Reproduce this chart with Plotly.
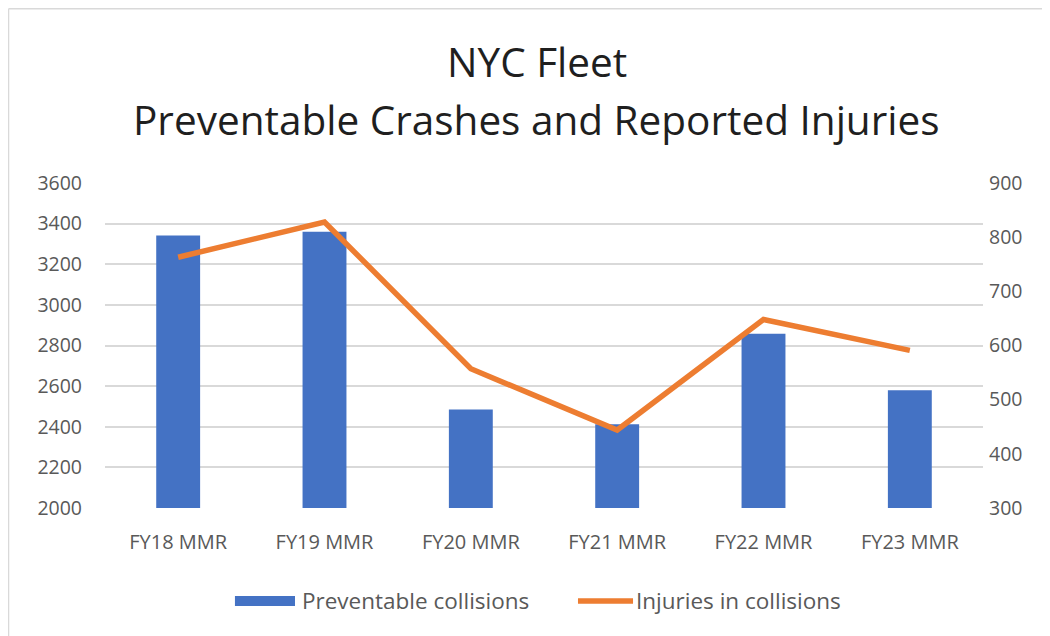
import plotly.graph_objects as go

categories = ["FY18 MMR", "FY19 MMR", "FY20 MMR", "FY21 MMR", "FY22 MMR", "FY23 MMR"]
preventable_collisions = [3342, 3360, 2485, 2412, 2858, 2580]
injuries_in_collisions = [763, 828, 557, 444, 648, 591]

left_ticks = list(range(2000, 3601, 200))
right_ticks = list(range(300, 901, 100))

title_line1 = "NYC Fleet"
title_line2 = "Preventable Crashes and Reported Injuries"
bar_name = "Preventable collisions"
line_name = "Injuries in collisions"

BAR_COLOR = "#4472C4"
LINE_COLOR = "#ED7D31"
TEXT_GREY = "#595959"
font_family = "Open Sans, Liberation Sans, sans-serif"

fig = go.Figure()
fig.add_trace(go.Bar(
    x=categories, y=preventable_collisions, name=bar_name,
    marker=dict(color=BAR_COLOR, line=dict(width=0)), yaxis="y", showlegend=False,
))
fig.add_trace(go.Scatter(
    x=categories, y=injuries_in_collisions, name=line_name,
    mode="lines", line=dict(color=LINE_COLOR, width=5.5), yaxis="y2", showlegend=False,
))

annotations = [
    dict(text=title_line1, x=0.4915, y=1.375, xref="paper", yref="paper", xanchor="center",
         yanchor="middle", showarrow=False, font=dict(family=font_family, size=40.5, color="#1f1f1f")),
    dict(text=title_line2, x=0.4915, y=1.194, xref="paper", yref="paper", xanchor="center",
         yanchor="middle", showarrow=False, font=dict(family=font_family, size=40.5, color="#1f1f1f")),
    dict(text=bar_name, x=0.2221, y=-0.286, xref="paper", yref="paper", xanchor="left",
         yanchor="middle", showarrow=False, font=dict(family=font_family, size=22.5, color=TEXT_GREY)),
    dict(text=line_name, x=0.6025, y=-0.286, xref="paper", yref="paper", xanchor="left",
         yanchor="middle", showarrow=False, font=dict(family=font_family, size=22.5, color=TEXT_GREY)),
]

shapes = [
    # legend swatches
    dict(type="rect", xref="paper", yref="paper", x0=0.148, x1=0.2164, y0=-0.3015, y1=-0.2708,
         fillcolor=BAR_COLOR, line=dict(width=0)),
    dict(type="line", xref="paper", yref="paper", x0=0.5387, x1=0.6014, y0=-0.286, y1=-0.286,
         line=dict(color=LINE_COLOR, width=5.5)),
    # chart-area border (top and left edges)
    dict(type="line", xref="paper", yref="paper", x0=-0.1099, x1=1.08, y0=1.536, y1=1.536,
         line=dict(color="#D9D9D9", width=1.5), layer="below"),
    dict(type="line", xref="paper", yref="paper", x0=-0.1099, x1=-0.1099, y0=-0.40, y1=1.536,
         line=dict(color="#D9D9D9", width=1.5), layer="below"),
]

fig.update_layout(
    width=1042, height=628,
    paper_bgcolor="white", plot_bgcolor="white",
    margin=dict(l=97, r=67, t=175, b=128, autoexpand=False),
    bargap=0.70,
    showlegend=False,
    font=dict(family=font_family, color=TEXT_GREY, size=16),
    xaxis=dict(showgrid=False, showline=False, ticks="", ticklabelstandoff=20,
               tickfont=dict(size=20, color=TEXT_GREY)),
    yaxis=dict(
        range=[2000, 3600], tickvals=left_ticks, showgrid=True, gridcolor="#D9D9D9", gridwidth=1.5,
        zeroline=False, showline=False, ticklabelstandoff=22, tickfont=dict(size=19.5, color=TEXT_GREY),
    ),
    yaxis2=dict(
        range=[300, 900], tickvals=right_ticks, overlaying="y", side="right", showgrid=False,
        zeroline=False, showline=False, ticklabelstandoff=5, tickfont=dict(size=19.5, color=TEXT_GREY),
    ),
    annotations=annotations,
    shapes=shapes,
)

fig.write_html("out.html")
